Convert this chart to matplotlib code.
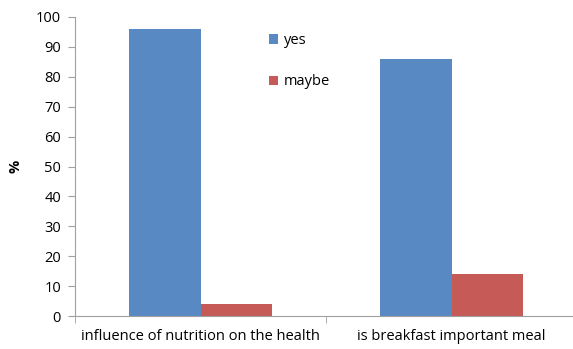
import matplotlib
matplotlib.use("Agg")
import matplotlib.pyplot as plt
import numpy as np

categories = ["influence of nutrition on the health", "is breakfast important meal"]
yes_vals = [96, 86]
maybe_vals = [4, 14]
series_names = ["yes", "maybe"]
yticks = list(range(0, 101, 10))

plt.rcParams["font.family"] = ["Open Sans", "DejaVu Sans"]

fig = plt.figure(figsize=(5.73, 3.49), dpi=100)
ax = fig.add_axes([75 / 573, 1 - 316 / 349, 502 / 573, 299 / 349])

x = np.arange(len(categories))
w = 0.285
ax.bar(x - w / 2, yes_vals, w, color="#5989C3", label=series_names[0])
ax.bar(x + w / 2, maybe_vals, w, color="#C65A57", label=series_names[1])

ax.set_xlim(-0.5, len(categories) - 0.5)
ax.set_ylim(0, 100)
ax.set_yticks(yticks)
ax.set_xticks(x)
ax.set_xticklabels(categories)
ax.set_xticks(np.arange(-0.5, len(categories), 1.0), minor=True)
ax.tick_params(axis="x", which="major", length=0, pad=9, labelsize=10.5)
ax.tick_params(axis="x", which="minor", length=5, color="#a0a0a0")
ax.tick_params(axis="y", length=5, color="#a0a0a0", labelsize=10.5, pad=5)

for side in ("top", "right"):
    ax.spines[side].set_visible(False)
for side in ("left", "bottom"):
    ax.spines[side].set_color("#a0a0a0")

ax.set_ylabel("%", fontweight="bold", fontsize=10.5, labelpad=10)

fig.legend(loc="upper left", bbox_to_anchor=(256 / 573, 1 - 20 / 349),
           frameon=False, labelspacing=1.8, handlelength=0.6,
           handleheight=0.6, handletextpad=0.4, fontsize=10.5)

fig.savefig("out.png", dpi=100)
